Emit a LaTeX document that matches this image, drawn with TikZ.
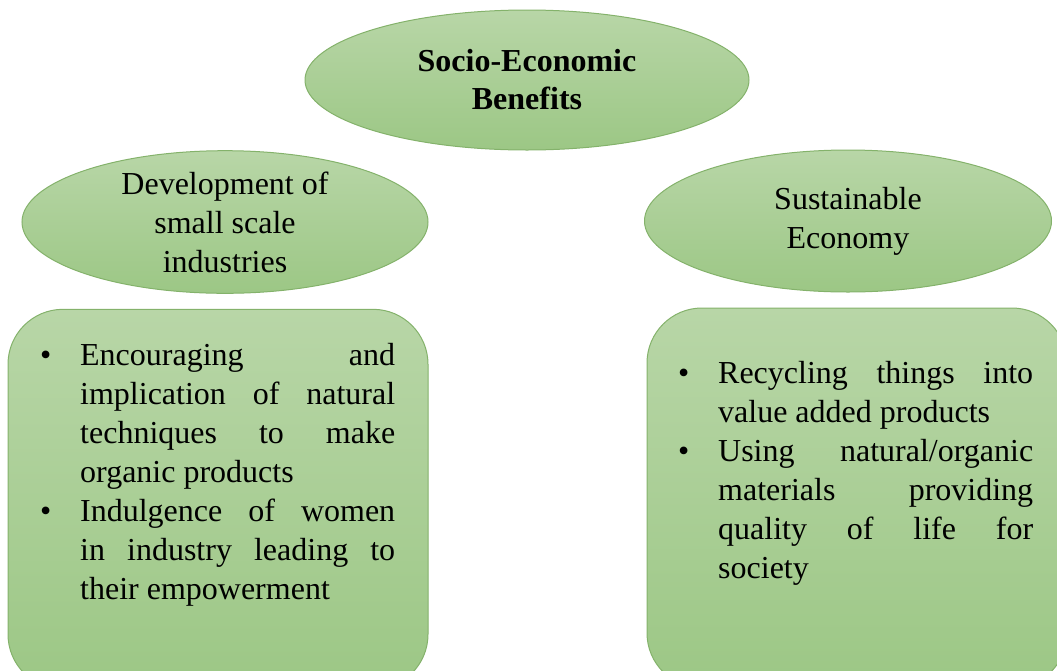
\documentclass[tikz,border=0pt]{standalone}
\usepackage{fontspec}
\setmainfont{Liberation Serif}
\usetikzlibrary{shapes.geometric,positioning}

\definecolor{leaftop}{RGB}{184,214,167}
\definecolor{leafbot}{RGB}{156,199,133}
\definecolor{leafrim}{RGB}{132,178,107}

% one bullet point with a hanging indent
\newcommand{\bitem}[1]{\noindent\hangindent=40pt\hangafter=1%
  \makebox[40pt][l]{\textbullet}#1\par}

\begin{document}
\begin{tikzpicture}[x=1pt,y=-1pt,node distance=15pt,
                    font=\fontsize{32}{39}\selectfont,
                    leaf/.style={draw=leafrim,line width=1pt,top color=leaftop,
                                 bottom color=leafbot,inner sep=0pt},
                    head/.style={leaf,ellipse,align=center},
                    card/.style={leaf,rectangle,rounded corners=55pt,
                                 minimum width=420pt,minimum height=380pt},
                    points/.style={anchor=base west,text width=355pt,
                                   align=justify,inner sep=0pt,
                                   execute at begin node={\tolerance=10000\hbadness=10000}}]

  \useasboundingbox (0,0) rectangle (1057,670);

  \node[head,minimum width=444pt,minimum height=140pt,
        font=\fontsize{32}{38}\selectfont\bfseries] (top) at (527,80)
        {Socio-Economic\\Benefits};
  \node[head,minimum width=406pt,minimum height=141pt] (dev) at (225,222)
        {Development of\\small scale\\industries};
  \node[head,minimum width=407pt,minimum height=142pt] (eco) at (848,221)
        {Sustainable\\Economy};

  \node[card,below=15pt of dev,xshift=-7pt] (devbox) {};
  \node[card,below=15pt of eco,xshift=9pt]  (ecobox) {};

  \node[points] (devtext) at (40,365)
    {\bitem{Encouraging and\linebreak implication of natural\linebreak
            techniques to make\linebreak organic products}
     \bitem{Indulgence of women\linebreak in industry leading to\linebreak
            their empowerment}};
  \node[points] (ecotext) at (678,383)
    {\bitem{Recycling things into\linebreak value added products}
     \bitem{Using natural/organic\linebreak materials providing\linebreak
            quality of life for\linebreak society}};
\end{tikzpicture}
\end{document}
